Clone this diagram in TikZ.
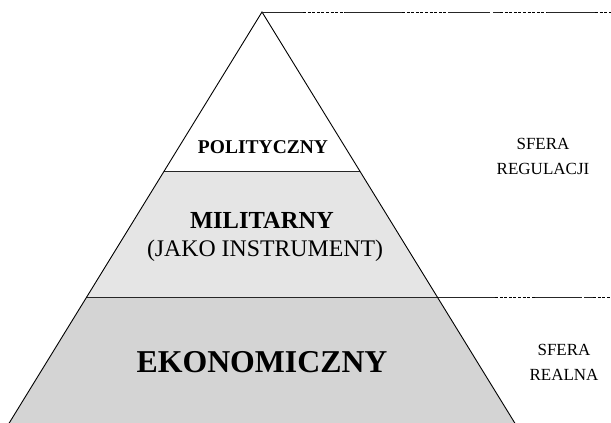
\documentclass[tikz,border=0pt]{standalone}
\usepackage{fontspec}
\setmainfont{Liberation Serif}
\usetikzlibrary{calc}
\definecolor{midgray}{gray}{0.90}
\definecolor{lowgray}{gray}{0.83}
\tikzset{
  edge/.style={line width=0.9pt, line join=miter},
  guide/.style={line width=0.8pt, black!85},
  dotguide/.style={guide, black, dash pattern=on 3pt off 1.6pt},
  sfera/.style={align=center, font=\fontsize{17}{25}\selectfont},
}

\begin{document}
\begin{tikzpicture}[x=1pt, y=-1pt]
		\useasboundingbox (0,0) rectangle (611,423);
		\coordinate (apex) at (262,12);
		\coordinate (lowL) at (4.9,430);
		\coordinate (lowR) at (519.1,430);
		\coordinate (topL) at (164.2,171);
		\coordinate (topR) at (359.8,171);
		\coordinate (midL) at (86.7,297);
		\coordinate (midR) at (437.3,297);
		
		\fill[midgray] (topL) -- (topR) -- (midR) -- (midL) -- cycle;
		\fill[lowgray] (midL) -- (midR) -- (lowR) -- (lowL) -- cycle;
		\draw[guide] (topL) -- (topR);
		\draw[guide] (midL) -- (495,297);
		\draw[edge] (lowL) -- (apex) -- (lowR);
		
		% top guide line
		\draw[guide] (apex) -- (303,12);
		\draw[dotguide] (303,12) -- (345,12);
		\draw[guide] (345,12) -- (402,12);
		\draw[dotguide] (402,12) -- (448,12);
		\draw[guide] (448,12) -- (490,12) (493,12) -- (500,12);
		\draw[dotguide] (500,12) -- (547,12);
		\draw[guide] (547,12) -- (595,12);
		\draw[dotguide] (595,12) -- (611,12);
		
		% middle guide line
		\draw[dotguide] (495,297) -- (535,297);
		\draw[guide] (535,297) -- (582,297) (584,297) -- (593,297);
		\draw[dotguide] (593,297) -- (611,297);
		
		\draw (263,153) node[anchor=base, font=\fontsize{19.5}{20}\selectfont\bfseries] (pol) {POLITYCZNY};
		\draw (262,228) node[anchor=base, font=\fontsize{24.5}{25}\selectfont\bfseries] (mil) {MILITARNY};
		\draw (265,256) node[anchor=base, font=\fontsize{23.8}{24}\selectfont] (instr) {(JAKO INSTRUMENT)};
		\draw (262,372) node[anchor=base, font=\fontsize{31.8}{32}\selectfont\bfseries] (eko) {EKONOMICZNY};
		
		\draw (543,156) node[sfera] (regul) {SFERA\\REGULACJI};
		\draw (564,362) node[sfera] (realna) {SFERA\\REALNA};
	\end{tikzpicture}
\end{document}
